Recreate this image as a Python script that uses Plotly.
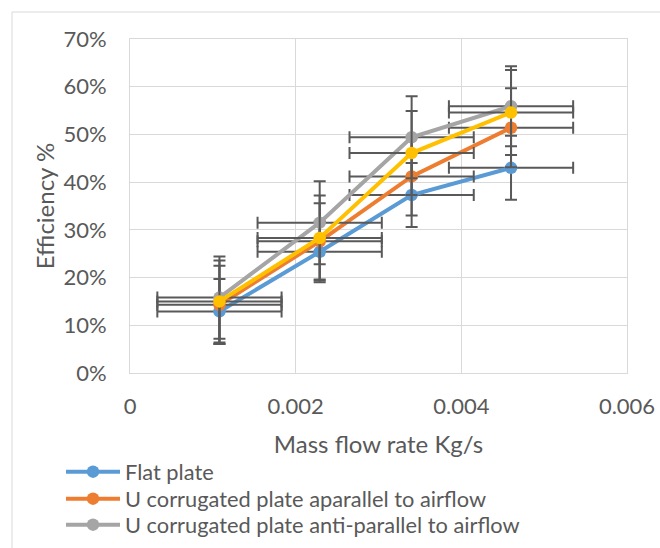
import plotly.graph_objects as go

# Mass flow rate (kg/s) at the four test points
mass_flow = [0.00108, 0.00229, 0.00340, 0.00460]
mass_flow_err = [0.00075, 0.00075, 0.00075, 0.00075]

# Collector efficiency (fraction) and its uncertainty per configuration
flat_plate = [0.129, 0.254, 0.373, 0.430]
flat_plate_err = [0.068, 0.064, 0.067, 0.067]

u_parallel = [0.143, 0.276, 0.412, 0.514]
u_parallel_err = [0.082, 0.080, 0.082, 0.083]

u_anti_parallel = [0.158, 0.315, 0.494, 0.559]
u_anti_parallel_err = [0.086, 0.087, 0.086, 0.084]

series4 = [0.150, 0.283, 0.461, 0.546]
series4_err = [0.086, 0.089, 0.088, 0.089]

# name, values, errors, colour, legend id (None = not listed)
series = [
    ("Flat plate", flat_plate, flat_plate_err, "#5B9BD5", "legend"),
    ("U corrugated plate aparallel to airflow", u_parallel, u_parallel_err, "#ED7D31", "legend2"),
    ("U corrugated plate anti-parallel to airflow", u_anti_parallel, u_anti_parallel_err, "#A5A5A5", "legend3"),
    ("Series4", series4, series4_err, "#FFC000", None),
]

FONT = "Lato, 'Open Sans', sans-serif"
TEXT = "#595959"
GRID = "#D9D9D9"
ERR = "#595959"

fig = go.Figure()
for name, y, yerr, color, leg in series:
    fig.add_trace(go.Scatter(
        x=mass_flow, y=y, name=name, mode="lines+markers",
        showlegend=leg is not None,
        legend=leg if leg else "legend",
        line=dict(color=color, width=4),
        marker=dict(color=color, size=12.5),
        error_y=dict(type="data", array=yerr, visible=True,
                     color=ERR, thickness=2, width=6),
        error_x=dict(type="data", array=mass_flow_err, visible=True,
                     color=ERR, thickness=2, width=6),
    ))

W, H = 660, 548
ML, MR, MT, MB = 130, 33, 39, 175
pw, ph = W - ML - MR, H - MT - MB

def px_x(p):
    return (p - ML) / pw

def px_y(p):
    return (H - MB - p) / ph

# light outer frame of the chart area
fig.add_shape(type="rect", xref="paper", yref="paper",
              x0=px_x(12), x1=px_x(W + 10), y0=px_y(12), y1=px_y(H + 10),
              line=dict(color=GRID, width=1), fillcolor="rgba(0,0,0,0)",
              layer="below")

legend_style = dict(
    xanchor="left", yanchor="middle", orientation="v",
    bgcolor="rgba(0,0,0,0)", borderwidth=0,
    font=dict(size=21.8, color=TEXT, family=FONT), itemwidth=54,
)
legend_rows = {"legend": 472, "legend2": 499, "legend3": 525}

fig.update_layout(
    width=W, height=H,
    margin=dict(l=ML, r=MR, t=MT, b=MB, pad=0, autoexpand=False),
    paper_bgcolor="white", plot_bgcolor="white",
    font=dict(family=FONT, color=TEXT),
    xaxis=dict(
        range=[0, 0.006], tickvals=[0, 0.002, 0.004, 0.006],
        ticktext=["0", "0.002", "0.004", "0.006"],
        showgrid=True, gridcolor=GRID, gridwidth=1,
        showline=True, linecolor=GRID, linewidth=1, mirror=True,
        zeroline=False, ticks="", ticklabelstandoff=14,
        tickfont=dict(size=22, color=TEXT, family=FONT),
        title=dict(text="Mass flow rate Kg/s", standoff=17,
                   font=dict(size=24, color=TEXT, family=FONT)),
    ),
    yaxis=dict(
        range=[0, 0.7], tickvals=[0, 0.1, 0.2, 0.3, 0.4, 0.5, 0.6, 0.7],
        tickformat=".0%",
        showgrid=True, gridcolor=GRID, gridwidth=1,
        showline=True, linecolor=GRID, linewidth=1, mirror=True,
        zeroline=False, ticks="", ticklabelstandoff=18,
        tickfont=dict(size=22, color=TEXT, family=FONT),
        title=dict(text="Efficiency %", standoff=2,
                   font=dict(size=24, color=TEXT, family=FONT)),
    ),
)
for key, row in legend_rows.items():
    fig.update_layout({key: dict(legend_style, x=px_x(61), y=px_y(row))})

fig.write_html("out.html")
